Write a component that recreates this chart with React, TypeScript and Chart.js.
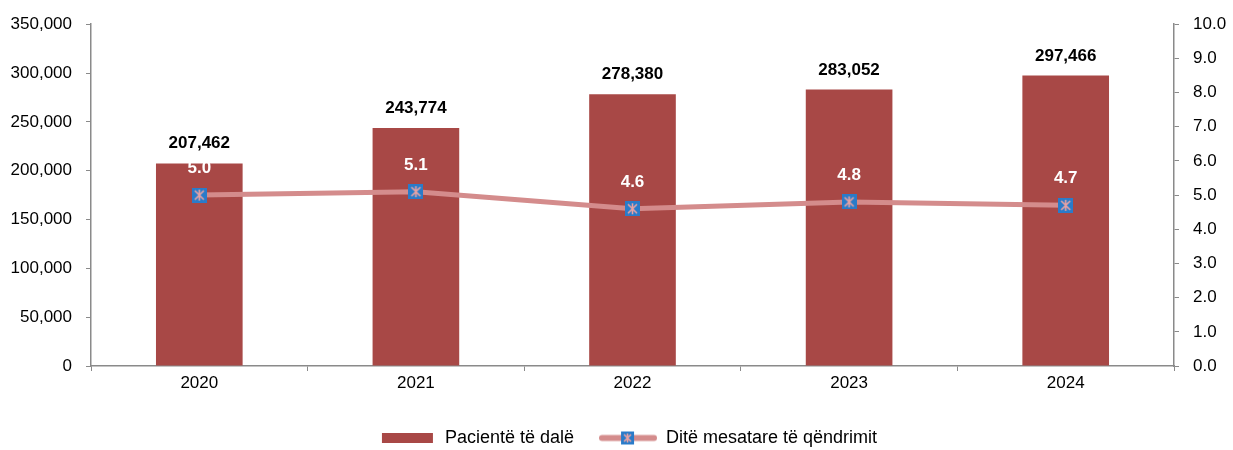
import React, { useEffect, useRef } from "react";
import { Chart, registerables } from "chart.js";

Chart.register(...registerables);

const years = ["2020", "2021", "2022", "2023", "2024"];
const patients = [207462, 243774, 278380, 283052, 297466];
const avgStay = [5.0, 5.1, 4.6, 4.8, 4.7];
const legendLabels = ["Pacientë të dalë", "Ditë mesatare të qëndrimit"];

const FONT = "'Liberation Sans', Arial, sans-serif";
const BAR = "#A84846";
const LINE = "#D48C8C";
const BLUE = "#2A7BC9";
const STAR = "#EBA3A3";
const AXIS = "#8A8A8A";

function makeMarker(size: number) {
  const c = document.createElement("canvas");
  c.width = size;
  c.height = size;
  const ctx = c.getContext("2d")!;
  ctx.fillStyle = BLUE;
  ctx.fillRect(0, 0, size, size);
  ctx.strokeStyle = STAR;
  ctx.lineWidth = 1.6;
  const m = 3;
  ctx.beginPath();
  ctx.moveTo(m, m);
  ctx.lineTo(size - m, size - m);
  ctx.moveTo(size - m, m);
  ctx.lineTo(m, size - m);
  ctx.moveTo(size / 2, m - 1);
  ctx.lineTo(size / 2, size - m + 1);
  ctx.stroke();
  return c;
}

function makeLineLegend() {
  const c = document.createElement("canvas");
  c.width = 58;
  c.height = 15;
  const ctx = c.getContext("2d")!;
  ctx.strokeStyle = LINE;
  ctx.lineWidth = 6;
  ctx.lineCap = "round";
  ctx.beginPath();
  ctx.moveTo(3, 7.5);
  ctx.lineTo(55, 7.5);
  ctx.stroke();
  const mk = makeMarker(13);
  ctx.drawImage(mk, 22, 1);
  return c;
}

function makeBarLegend() {
  const c = document.createElement("canvas");
  c.width = 58;
  c.height = 10;
  const ctx = c.getContext("2d")!;
  ctx.fillStyle = BAR;
  ctx.fillRect(4, 0, 51, 10);
  return c;
}

const valueLabels = {
  id: "valueLabels",
  afterDatasetsDraw(chart: any) {
    const ctx = chart.ctx;
    ctx.save();
    ctx.textAlign = "center";
    ctx.textBaseline = "alphabetic";
    ctx.font = `bold 17px ${FONT}`;
    ctx.fillStyle = "#000";
    chart.getDatasetMeta(0).data.forEach((el: any, i: number) => {
      ctx.fillText(patients[i].toLocaleString("en-US"), el.x, el.y - 15);
    });
    ctx.fillStyle = "#fff";
    chart.getDatasetMeta(1).data.forEach((el: any, i: number) => {
      ctx.fillText(avgStay[i].toFixed(1), el.x, el.y - 22);
    });
    ctx.restore();
  },
};

const legendShift = {
  id: "legendShift",
  afterLayout(chart: any) {
    const l = chart.legend;
    if (!l) return;
    l.top += 7;
    l.bottom += 7;
    l.left += 11;
    l.right += 11;
  },
};

export default function App() {
  const ref = useRef<HTMLCanvasElement>(null);

  useEffect(() => {
    if (!ref.current) return;
    Chart.defaults.font.family = FONT;
    const marker = makeMarker(15);
    const barImg = makeBarLegend();
    const lineImg = makeLineLegend();
    const tickFont = { family: FONT, size: 17 };

    const chart = new Chart(ref.current, {
      type: "bar",
      data: {
        labels: years,
        datasets: [
          {
            type: "bar",
            label: legendLabels[0],
            data: patients,
            backgroundColor: BAR,
            yAxisID: "y",
            categoryPercentage: 1,
            barPercentage: 0.4,
            order: 1,
          },
          {
            type: "line",
            label: legendLabels[1],
            data: avgStay,
            borderColor: LINE,
            borderWidth: 5,
            pointStyle: marker as any,
            pointRadius: 7,
            tension: 0,
            yAxisID: "y1",
            order: 0,
          },
        ] as any,
      },
      options: {
        responsive: false,
        animation: false,
        layout: { padding: { top: 24, left: 0, right: 0, bottom: 0 } },
        plugins: {
          tooltip: { enabled: false },
          legend: {
            position: "bottom",
            labels: {
              usePointStyle: true,
              pointStyleWidth: 58,
              padding: 25,
              color: "#000",
              font: { family: FONT, size: 18 },
              generateLabels: () => [
                {
                  text: legendLabels[0],
                  pointStyle: barImg as any,
                  fillStyle: BAR,
                  strokeStyle: BAR,
                  lineWidth: 0,
                  hidden: false,
                  datasetIndex: 0,
                },
                {
                  text: legendLabels[1],
                  pointStyle: lineImg as any,
                  fillStyle: LINE,
                  strokeStyle: LINE,
                  lineWidth: 0,
                  hidden: false,
                  datasetIndex: 1,
                },
              ],
            },
          },
        },
        scales: {
          x: {
            grid: {
              drawOnChartArea: false,
              offset: true,
              color: AXIS,
              tickColor: AXIS,
              tickLength: 5,
            },
            border: { color: AXIS, width: 1.5 },
            ticks: { font: tickFont, color: "#000", padding: 2 },
            afterFit: (s: any) => {
              s.height = 31;
            },
          },
          y: {
            position: "left",
            min: 0,
            max: 350000,
            grid: { drawOnChartArea: false, color: AXIS, tickColor: AXIS, tickLength: 5 },
            border: { color: AXIS, width: 1.5 },
            ticks: {
              stepSize: 50000,
              font: tickFont,
              color: "#000",
              padding: 14,
              callback: (v: any) => Number(v).toLocaleString("en-US"),
            },
            afterFit: (s: any) => {
              s.width = 91;
            },
          },
          y1: {
            position: "right",
            min: 0,
            max: 10,
            grid: { drawOnChartArea: false, color: AXIS, tickColor: AXIS, tickLength: 5 },
            border: { color: AXIS, width: 1.5 },
            ticks: {
              stepSize: 1,
              font: tickFont,
              color: "#000",
              padding: 14,
              callback: (v: any) => Number(v).toFixed(1),
            },
            afterFit: (s: any) => {
              s.width = 59;
            },
          },
        },
      } as any,
      plugins: [valueLabels, legendShift],
    });
    return () => chart.destroy();
  }, []);

  return (
    <div style={{ position: "absolute", left: 0, top: 0, width: 1233, height: 450, background: "#fff" }}>
      <canvas ref={ref} width={1233} height={450} />
    </div>
  );
}
